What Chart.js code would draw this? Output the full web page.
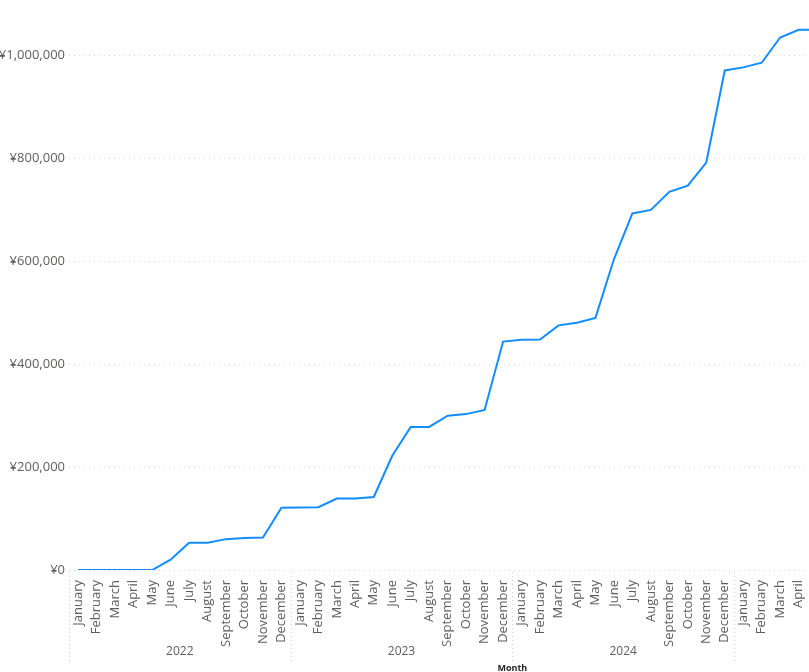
<!DOCTYPE html>
<html>
<head>
<meta charset="utf-8">
<script src="https://cdn.jsdelivr.net/npm/chart.js@4/dist/chart.umd.min.js"></script>
<style>
  html, body { margin: 0; padding: 0; overflow: hidden; background: #fff; }
  canvas { display: block; }
</style>
</head>
<body>
<canvas id="chart" width="964" height="672"></canvas>
<script>
// data (running total, yen)
const years = ['2022', '2023', '2024', '2025'];
const monthNames = ['January', 'February', 'March', 'April', 'May', 'June',
  'July', 'August', 'September', 'October', 'November', 'December'];

const total2022 = [0, 0, 0, 0, 0, 20000, 53000, 53000, 60000, 62000, 63000, 121000];
const total2023 = [121500, 122000, 139000, 139000, 142000, 222000, 278000, 278000, 300000, 303000, 311000, 444000];
const total2024 = [447500, 448000, 475500, 480500, 490000, 604000, 693000, 700000, 735000, 747000, 792000, 971000];
const total2025 = [977000, 986000, 1035000, 1050000, 1050000, null, null, null, null, null, null, null];

const yTicks = [0, 200000, 400000, 600000, 800000, 1000000];

const labels = years.flatMap(() => monthNames);
const values = [...total2022, ...total2023, ...total2024, ...total2025];

const FONT = "'Segoe UI', 'Open Sans', sans-serif";

// year row, dotted separators and the axis name under the month labels
const yearRows = {
  id: 'yearRows',
  afterDraw(chart) {
    const x = chart.scales.x;
    const ctx = chart.ctx;
    ctx.save();
    ctx.strokeStyle = '#d0d0d0';
    ctx.lineWidth = 1;
    ctx.setLineDash([1, 3]);
    for (let g = 0; g <= years.length; g++) {
      const px = Math.round(x.getPixelForValue(g * 12 - 0.5)) + 0.5;
      ctx.beginPath();
      ctx.moveTo(px, x.top + 2);
      ctx.lineTo(px, x.top + 92);
      ctx.stroke();
    }
    ctx.setLineDash([]);
    ctx.fillStyle = '#605e5c';
    ctx.font = '12px ' + FONT;
    ctx.textAlign = 'center';
    ctx.textBaseline = 'middle';
    years.forEach((yr, g) => {
      ctx.fillText(yr, x.getPixelForValue(g * 12 + 5.5), x.top + 82);
    });
    ctx.fillStyle = '#252423';
    ctx.font = 'bold 9px ' + FONT;
    ctx.fillText('Month', (x.left + x.right) / 2, x.bottom - 4);
    ctx.restore();
  }
};

new Chart(document.getElementById('chart'), {
  type: 'line',
  data: {
    labels: labels,
    datasets: [{
      data: values,
      borderColor: '#118dff',
      borderWidth: 2,
      pointRadius: 0,
      tension: 0,
      fill: false
    }]
  },
  options: {
    responsive: false,
    animation: false,
    layout: { padding: { top: 0, right: 0, left: 0, bottom: 0 } },
    plugins: { legend: { display: false }, tooltip: { enabled: false } },
    scales: {
      x: {
        offset: true,
        grid: { display: false },
        border: { display: false },
        ticks: {
          autoSkip: false,
          minRotation: 90,
          maxRotation: 90,
          padding: 2,
          color: '#605e5c',
          font: { family: FONT, size: 13 }
        },
        afterFit(scale) { scale.height = 102; }
      },
      y: {
        min: 0,
        max: 1085000,
        grid: { color: '#d8d8d8', lineWidth: 1, drawTicks: false },
        border: { display: false, dash: [1, 4] },
        ticks: {
          padding: 4,
          color: '#605e5c',
          font: { family: FONT, size: 13 },
          callback: v => '¥' + v.toLocaleString('en-US')
        },
        afterBuildTicks(scale) {
          scale.ticks = yTicks.map(v => ({ value: v }));
        },
        afterFit(scale) { scale.width = 69; }
      }
    }
  },
  plugins: [yearRows]
});
</script>
</body>
</html>
